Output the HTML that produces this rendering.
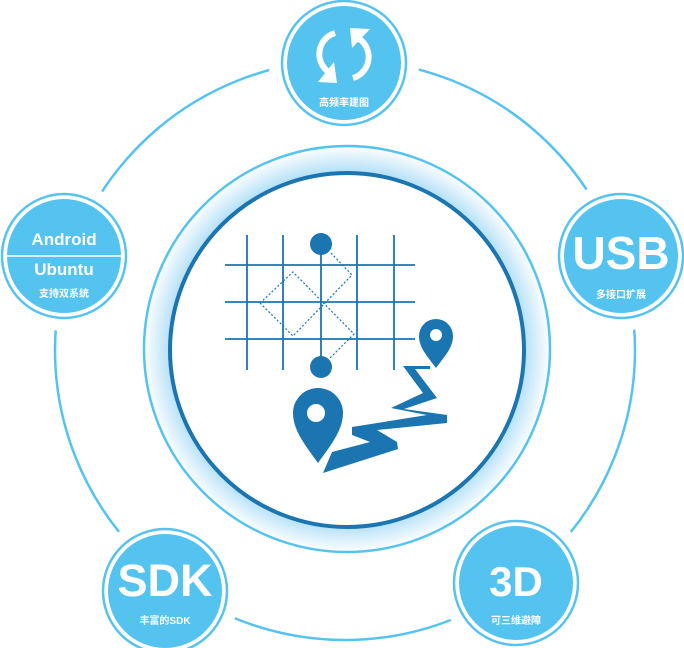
<!DOCTYPE html>
<html><head><meta charset="utf-8"><style>
html,body{margin:0;padding:0;background:#fff;}
svg{display:block;}
text{font-family:"Liberation Sans","Noto Sans CJK SC",sans-serif;fill:#fff;font-weight:bold;text-anchor:middle;}
</style></head><body>
<svg width="684" height="648" viewBox="0 0 684 648" xmlns="http://www.w3.org/2000/svg">
<defs>
<radialGradient id="g" cx="347" cy="349" r="204" gradientUnits="userSpaceOnUse">
<stop offset="0.85" stop-color="#a9dcf6"/>
<stop offset="0.93" stop-color="#d8effb"/>
<stop offset="1" stop-color="#ffffff"/>
</radialGradient>
</defs>
<circle cx="345" cy="350" r="290" fill="none" stroke="#55c3ef" stroke-width="2.5"/>
<g fill="#fff">
<circle cx="344" cy="63" r="75"/><circle cx="64" cy="256" r="75"/><circle cx="621" cy="256" r="75"/>
<circle cx="165" cy="591" r="75"/><circle cx="516" cy="583" r="75"/>
</g>
<circle cx="347" cy="349" r="203" fill="url(#g)" stroke="#55c3ef" stroke-width="2.5"/>
<circle cx="347" cy="350" r="177" fill="#fff" stroke="#1a75b0" stroke-width="4"/>
<g stroke="#1a75b0" stroke-width="1.8">
<line x1="247" y1="235" x2="247" y2="370"/><line x1="283" y1="235" x2="283" y2="370"/>
<line x1="321" y1="244" x2="321" y2="367"/><line x1="357" y1="235" x2="357" y2="370"/>
<line x1="394" y1="235" x2="394" y2="370"/>
<line x1="225" y1="265" x2="415" y2="265"/><line x1="225" y1="302" x2="415" y2="302"/><line x1="225" y1="339" x2="415" y2="339"/>
</g>
<g fill="none" stroke="#1a75b0" stroke-width="1.2" stroke-dasharray="2,2">
<path d="M260 303 L293 272 L354 334 L330 358"/>
<path d="M260 303 L293 336 L352 275 L330 252"/>
</g>
<circle cx="321" cy="244" r="11" fill="#1a75b0"/>
<circle cx="321" cy="367" r="11" fill="#1a75b0"/>
<path d="M403 366 L430 366 L430 369 L415 369 L437 398 L404 409 L447 415 L447 423 L377 430 L397 442 L398 449 L323 473 L332 452 L370 442 L352 435 L352 427 L427 415 L391 408 L423 393 Z" fill="#1a75b0"/>
<path d="M318 463 C305 445 293 430 293 413 A25 25 0 0 1 343 413 C343 430 331 445 318 463 Z" fill="#1a75b0"/>
<circle cx="316" cy="413" r="9" fill="#fff"/>
<path d="M436 368 C428 357 419 348 419 336 A17 17 0 0 1 453 336 C453 348 444 357 436 368 Z" fill="#1a75b0"/>
<circle cx="436" cy="335" r="6" fill="#fff"/>
<g fill="#55c3ef" stroke="#55c3ef">
<circle cx="344" cy="63" r="62" fill="#fff" stroke-width="2.5"/><circle cx="344" cy="63" r="57" stroke="none"/>
<circle cx="64" cy="256" r="62" fill="#fff" stroke-width="2.5"/><circle cx="64" cy="256" r="57" stroke="none"/>
<circle cx="621" cy="256" r="62" fill="#fff" stroke-width="2.5"/><circle cx="621" cy="256" r="57" stroke="none"/>
<circle cx="165" cy="591" r="62" fill="#fff" stroke-width="2.5"/><circle cx="165" cy="591" r="57" stroke="none"/>
<circle cx="516" cy="583" r="62" fill="#fff" stroke-width="2.5"/><circle cx="516" cy="583" r="57" stroke="none"/>
</g>
<g fill="none" stroke="#fff" stroke-width="6">
<path d="M332 74 A22 22 0 0 1 335 33"/>
<path d="M356 37 A22 22 0 0 1 353 78"/>
</g>
<g fill="#fff">
<polygon points="318,82 334,62 337,83"/>
<polygon points="370,29 352,48 350,28"/>
</g>
<text x="344" y="106" font-size="10">高频率建图</text>
<text x="64" y="245" font-size="17">Android</text>
<line x1="7" y1="256" x2="121" y2="256" stroke="#fff" stroke-width="1.5"/>
<text x="64" y="275" font-size="17">Ubuntu</text>
<text x="64" y="297" font-size="10">支持双系统</text>
<text x="621" y="269" font-size="46">USB</text>
<text x="621" y="298" font-size="10">多接口扩展</text>
<text x="165" y="596" font-size="45">SDK</text>
<text x="165" y="624" font-size="10">丰富的SDK</text>
<text x="516" y="596" font-size="42">3D</text>
<text x="516" y="624" font-size="10">可三维避障</text>
</svg>
</body></html>
